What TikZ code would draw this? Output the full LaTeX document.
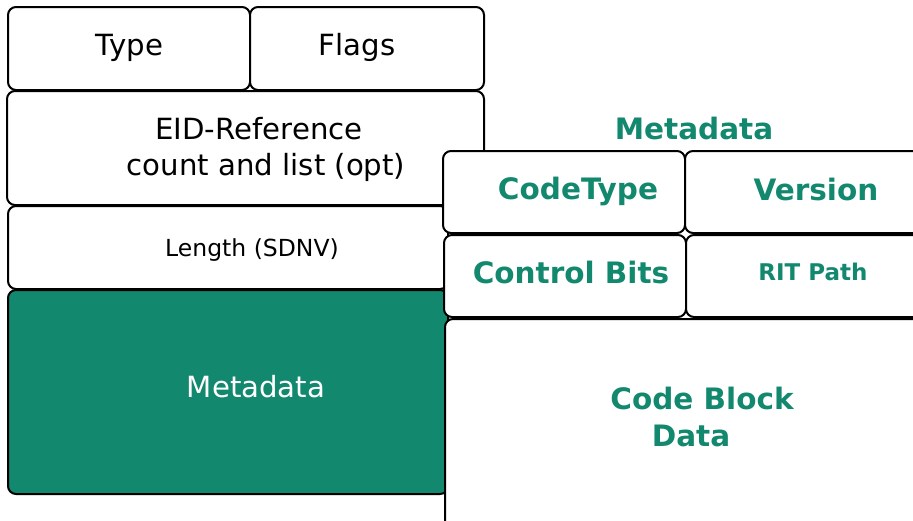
\documentclass[tikz,border=0pt]{standalone}
\usepackage{fontspec}
\setmainfont{DejaVu Sans}
\definecolor{mdgreen}{RGB}{18,136,110}
\tikzset{
  box/.style={draw=black, line width=2pt, rounded corners=8pt, fill=white,
    inner sep=0pt, anchor=north west},
  greenbox/.style={box, fill=mdgreen},
  lbl/.style={inner sep=0pt, anchor=base, font=\fontsize{29.2}{35}\selectfont},
  smlbl/.style={inner sep=0pt, anchor=base, font=\fontsize{23.5}{28}\selectfont},
  glbl/.style={lbl, text=mdgreen, font=\fontsize{29.5}{35}\selectfont\bfseries},
  gsmlbl/.style={smlbl, text=mdgreen, font=\fontsize{23}{28}\selectfont\bfseries}
}
\begin{document}
\begin{tikzpicture}[x=1pt,y=-1pt]
\useasboundingbox (0,0) rectangle (913,520);
\clip (0,0) rectangle (913,520);
% left column
\node[box, minimum width=242pt, minimum height=83pt] (type) at (7,6) {};
\node[box, minimum width=234pt, minimum height=83pt] (flags) at (249,6) {};
\node[box, minimum width=477pt, minimum height=114pt] (eid) at (6,90) {};
\node[box, minimum width=440pt, minimum height=83pt] (len) at (7,205) {};
\node[greenbox, minimum width=440pt, minimum height=204pt] (meta) at (7,289) {};
% right column
\node[box, minimum width=242pt, minimum height=82pt] (codetype) at (442,150) {};
\node[box, minimum width=240pt, minimum height=82pt] (version) at (684,150) {};
\node[box, minimum width=242pt, minimum height=82pt] (ctrl) at (443,234) {};
\node[box, minimum width=240pt, minimum height=82pt] (rit) at (685,234) {};
\node[box, minimum width=480pt, minimum height=215pt] (code) at (444,318) {};
% labels
\node[lbl] (typel) at (129.5,55) {Type};
\node[lbl] (flagsl) at (357,55) {Flags};
\node[lbl] (eidl1) at (259,139) {EID-Reference};
\node[lbl] (eidl2) at (266,175) {count and list (opt)};
\node[smlbl] (lenl) at (252,256) {Length (SDNV)};
\node[lbl, text=white] (metal) at (256,397) {Metadata};
\node[glbl] (title) at (694,139) {Metadata};
\node[glbl] (codetypel) at (578,199) {CodeType};
\node[glbl] (versionl) at (816,200) {Version};
\node[glbl] (ctrll) at (571,283) {Control Bits};
\node[gsmlbl] (ritl) at (813,280) {RIT Path};
\node[glbl] (codel1) at (702,409) {Code Block};
\node[glbl] (codel2) at (691,446) {Data};
\end{tikzpicture}
\end{document}
